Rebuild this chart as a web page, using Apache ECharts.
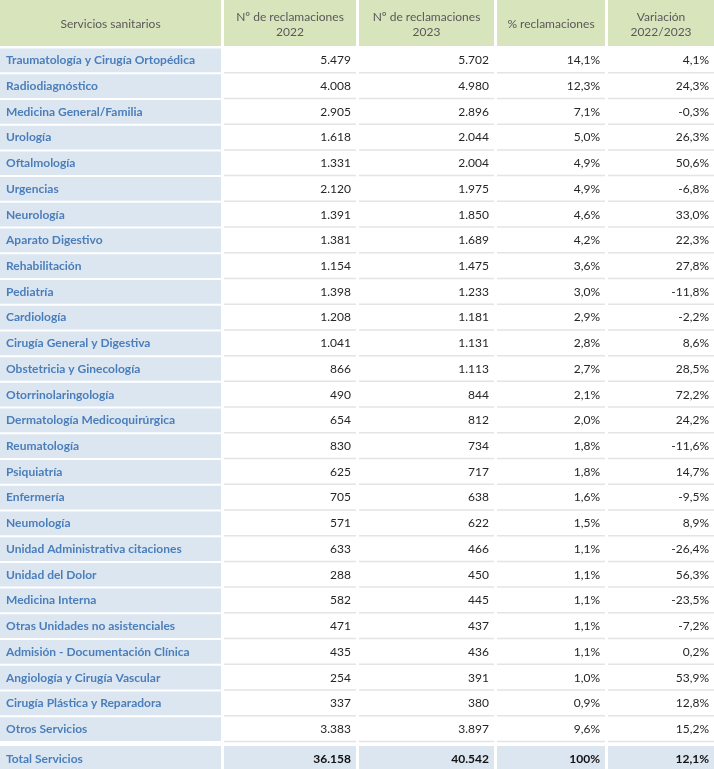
<!DOCTYPE html>
<html>
<head>
<meta charset="utf-8">
<script src="https://cdn.jsdelivr.net/npm/echarts@6/dist/echarts.min.js"></script>
<style>
html,body{margin:0;padding:0;background:#fff;}
#chart{width:714px;height:769px;}
</style>
</head>
<body>
<div id="chart"></div>
<script>
// ---- Data ----
const headers = ['Servicios sanitarios', 'Nº de reclamaciones\n2022', 'Nº de reclamaciones\n2023', '% reclamaciones', 'Variación\n2022/2023'];
const services = [
  'Traumatología y Cirugía Ortopédica', 'Radiodiagnóstico', 'Medicina General/Familia', 'Urología',
  'Oftalmología', 'Urgencias', 'Neurología', 'Aparato Digestivo', 'Rehabilitación', 'Pediatría',
  'Cardiología', 'Cirugía General y Digestiva', 'Obstetricia y Ginecología', 'Otorrinolaringología',
  'Dermatología Medicoquirúrgica', 'Reumatología', 'Psiquiatría', 'Enfermería', 'Neumología',
  'Unidad Administrativa citaciones', 'Unidad del Dolor', 'Medicina Interna',
  'Otras Unidades no asistenciales', 'Admisión - Documentación Clínica',
  'Angiología y Cirugía Vascular', 'Cirugía Plástica y Reparadora', 'Otros Servicios'
];
const rec2022 = [5479, 4008, 2905, 1618, 1331, 2120, 1391, 1381, 1154, 1398, 1208, 1041, 866, 490, 654, 830, 625, 705, 571, 633, 288, 582, 471, 435, 254, 337, 3383];
const rec2023 = [5702, 4980, 2896, 2044, 2004, 1975, 1850, 1689, 1475, 1233, 1181, 1131, 1113, 844, 812, 734, 717, 638, 622, 466, 450, 445, 437, 436, 391, 380, 3897];
const pctRec = [14.1, 12.3, 7.1, 5.0, 4.9, 4.9, 4.6, 4.2, 3.6, 3.0, 2.9, 2.8, 2.7, 2.1, 2.0, 1.8, 1.8, 1.6, 1.5, 1.1, 1.1, 1.1, 1.1, 1.1, 1.0, 0.9, 9.6];
const variation = [4.1, 24.3, -0.3, 26.3, 50.6, -6.8, 33.0, 22.3, 27.8, -11.8, -2.2, 8.6, 28.5, 72.2, 24.2, -11.6, 14.7, -9.5, 8.9, -26.4, 56.3, -23.5, -7.2, 0.2, 53.9, 12.8, 15.2];
const totalLabel = 'Total Servicios';
const total2022 = 36158;
const total2023 = 40542;
const totalPct = 100;
const totalVar = 12.1;

// ---- Formatting ----
function fmtInt(v) { return String(v).replace(/\B(?=(\d{3})+(?!\d))/g, '.'); }
function fmtPct(v) { return v.toFixed(1).replace('.', ',') + '%'; }

// ---- Layout (styling only) ----
const colEdges = [[0, 221], [224, 356], [359, 494], [497, 605], [608, 714]];
const headerH = 46;
const firstRowTop = 48.5;
const rowH = 25.72;
const totalTop = 746;
const FONT = 'Lato';
const C = {
  header: '#d8e4bc', headerText: '#595959', blue: '#dce6f1', blueText: '#4a7ebb',
  num: '#262626', line: '#e4e4e4', totalNum: '#111111'
};

// rows: 0 header, 1..N data, N+1 total
const N = services.length;
const rowsData = [];
for (let i = 0; i < N + 2; i++) rowsData.push([0, i]);

function cellTexts(i) {
  if (i === 0) return headers;
  if (i === N + 1) return [totalLabel, fmtInt(total2022), fmtInt(total2023), totalPct + '%', fmtPct(totalVar)];
  const k = i - 1;
  return [services[k], fmtInt(rec2022[k]), fmtInt(rec2023[k]), fmtPct(pctRec[k]), fmtPct(variation[k])];
}

function renderItem(params, api) {
  const i = api.value(1);
  let top, bottom;
  if (i === 0) { top = 0; bottom = headerH; }
  else if (i === N + 1) { top = totalTop; bottom = totalTop + rowH; }
  else { top = firstRowTop + (i - 1) * rowH; bottom = top + rowH; }
  const texts = cellTexts(i);
  const children = [];
  for (let c = 0; c < 5; c++) {
    const p0 = api.coord([colEdges[c][0], top]);
    const p1 = api.coord([colEdges[c][1], bottom]);
    const x = p0[0], y = p0[1], w = p1[0] - p0[0], h = p1[1] - p0[1];
    if (i === 0) {
      children.push({ type: 'rect', shape: { x: x, y: y, width: w, height: h }, style: { fill: C.header } });
      children.push({ type: 'text', style: { text: texts[c], x: x + w / 2, y: y + h / 2 + 1.5, align: 'center', verticalAlign: 'middle',
        fill: C.headerText, font: 'normal 12px ' + FONT, lineHeight: 15 } });
    } else if (i === N + 1) {
      children.push({ type: 'rect', shape: { x: x, y: y, width: w, height: h }, style: { fill: C.blue } });
      if (c === 0) {
        children.push({ type: 'text', style: { text: texts[c], x: x + 6, y: y + 13, align: 'left', verticalAlign: 'middle',
          fill: C.blueText, font: 'bold 12px ' + FONT } });
      } else {
        children.push({ type: 'text', style: { text: texts[c], x: x + w - 5, y: y + 13, align: 'right', verticalAlign: 'middle',
          fill: C.totalNum, font: 'bold 12px ' + FONT } });
      }
    } else {
      if (c === 0) {
        children.push({ type: 'rect', shape: { x: x, y: y, width: w, height: h - 2 }, style: { fill: C.blue } });
        children.push({ type: 'text', style: { text: texts[c], x: x + 6, y: y + (h - 2) / 2, align: 'left', verticalAlign: 'middle',
          fill: C.blueText, font: 'bold 12px ' + FONT } });
      } else {
        children.push({ type: 'line', shape: { x1: x, y1: y + h - 1.5, x2: x + w, y2: y + h - 1.5 }, style: { stroke: C.line, lineWidth: 1.5 } });
        children.push({ type: 'text', style: { text: texts[c], x: x + w - 5, y: y + (h - 2) / 2, align: 'right', verticalAlign: 'middle',
          fill: C.num, font: 'normal 12px ' + FONT } });
      }
    }
  }
  return { type: 'group', children: children };
}

const chart = echarts.init(document.getElementById('chart'), null, { renderer: 'canvas' });
chart.setOption({
  animation: false,
  backgroundColor: '#ffffff',
  grid: { left: 0, top: 0, width: 714, height: 769 },
  xAxis: { type: 'value', min: 0, max: 714, show: false },
  yAxis: { type: 'value', min: 0, max: 769, inverse: true, show: false },
  series: [{
    type: 'custom',
    renderItem: renderItem,
    data: rowsData,
    clip: false,
    silent: true
  }]
});
</script>
</body>
</html>
